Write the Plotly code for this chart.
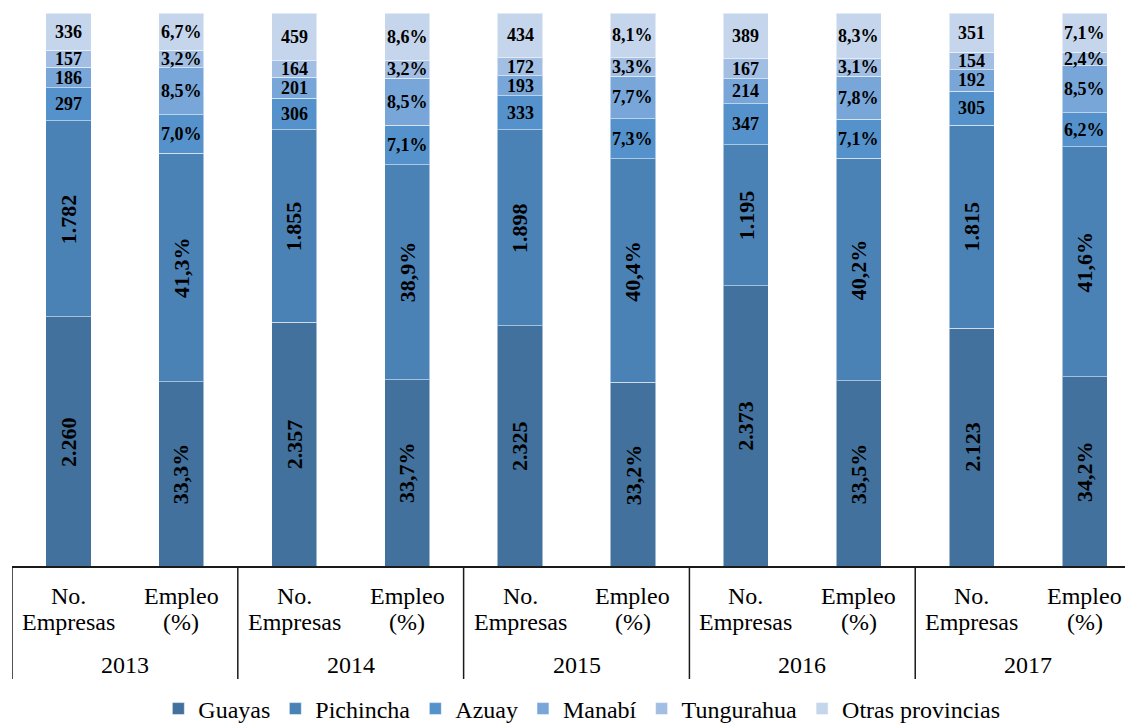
import plotly.graph_objects as go

# Provinces (stack order, bottom to top)
provincias = ["Guayas", "Pichincha", "Azuay", "Manabí", "Tungurahua", "Otras provincias"]
colores = ["#41719c", "#4b82b6", "#5592cb", "#78a6d9", "#a2bee3", "#c5d5ec"]

years = ["2013", "2014", "2015", "2016", "2017"]
subcats = ["No. Empresas", "Empleo (%)"]
subcat_lines = [["No.", "Empresas"], ["Empleo", "(%)"]]

# Number of firms per province and year
empresas = {
    "2013": [2260, 1782, 297, 186, 157, 336],
    "2014": [2357, 1855, 306, 201, 164, 459],
    "2015": [2325, 1898, 333, 193, 172, 434],
    "2016": [2373, 1195, 347, 214, 167, 389],
    "2017": [2123, 1815, 305, 192, 154, 351],
}
# Share of employment per province and year (%)
empleo = {
    "2013": [33.3, 41.3, 7.0, 8.5, 3.2, 6.7],
    "2014": [33.7, 38.9, 7.1, 8.5, 3.2, 8.6],
    "2015": [33.2, 40.4, 7.3, 7.7, 3.3, 8.1],
    "2016": [33.5, 40.2, 7.1, 7.8, 3.1, 8.3],
    "2017": [34.2, 41.6, 6.2, 8.5, 2.4, 7.1],
}

FONT = "Liberation Serif, Times New Roman, serif"

# One category per (year, measure) column
cats = []
bar_values = []
bar_labels = []
for y in years:
    cats.append(f"{y} No. Empresas")
    bar_values.append(empresas[y])
    bar_labels.append([f"{v:,}".replace(",", ".") for v in empresas[y]])
    cats.append(f"{y} Empleo (%)")
    bar_values.append(empleo[y])
    bar_labels.append([f"{v:.1f}".replace(".", ",") + "%" for v in empleo[y]])

fig = go.Figure()
for i, prov in enumerate(provincias):
    fig.add_trace(go.Bar(
        x=cats,
        y=[vals[i] for vals in bar_values],
        name=prov,
        marker=dict(color=colores[i], line=dict(color="rgba(255,255,255,0.5)", width=1)),
    ))

annotations = []
# Value labels centred in each stacked segment (normalised to 100)
for c, vals, labs in zip(cats, bar_values, bar_labels):
    total = sum(vals)
    base = 0.0
    for i, (v, lab) in enumerate(zip(vals, labs)):
        share = v / total * 100
        big = i < 2
        annotations.append(dict(
            x=c, y=base + share / 2, xref="x", yref="y",
            text=f"<b>{lab}</b>", showarrow=False,
            textangle=-90 if big else 0,
            font=dict(family=FONT, size=22 if big else 18, color="black"),
            xanchor="center", yanchor="middle",
        ))
        base += share

# Category axis labels (two rows) and year labels
plot_top, plot_bottom = 13, 566
plot_h = plot_bottom - plot_top


def py(pix):
    return (plot_bottom - pix) / plot_h


for k, c in enumerate(cats):
    lines = subcat_lines[k % 2]
    for txt, ypix in zip(lines, [596, 622]):
        annotations.append(dict(
            x=c, y=py(ypix), xref="x", yref="paper", text=txt, showarrow=False,
            font=dict(family=FONT, size=24, color="black"),
            xanchor="center", yanchor="middle",
        ))
for g, y in enumerate(years):
    annotations.append(dict(
        x=2 * g + 0.5, y=py(665), xref="x", yref="paper", text=y, showarrow=False,
        font=dict(family=FONT, size=24, color="black"),
        xanchor="center", yanchor="middle",
    ))

# Group dividers below the axis
shapes = []
for g in range(len(years)):
    shapes.append(dict(
        type="line", xref="x", yref="paper",
        x0=2 * g - 0.5, x1=2 * g - 0.5, y0=0, y1=py(679),
        line=dict(color="#1a1a1a", width=1.5),
    ))

fig.update_layout(
    width=1125, height=725,
    margin=dict(l=12, r=0, t=plot_top, b=725 - plot_bottom, autoexpand=False),
    barmode="stack", barnorm="percent", bargap=0.6,
    plot_bgcolor="white", paper_bgcolor="white",
    font=dict(family=FONT, size=24, color="black"),
    showlegend=True,
    legend=dict(
        orientation="h", x=0.512, xanchor="center", y=py(709), yanchor="middle",
        font=dict(family=FONT, size=24, color="black"),
        traceorder="normal",
    ),
    annotations=annotations,
    shapes=shapes,
)
fig.update_xaxes(
    type="category", range=[-0.5, 9.358], showticklabels=False, ticks="",
    showgrid=False, showline=True, linecolor="#1a1a1a", linewidth=1.5, zeroline=False,
)
fig.update_yaxes(range=[0, 100], visible=False, showgrid=False)

fig.write_html("out.html")
